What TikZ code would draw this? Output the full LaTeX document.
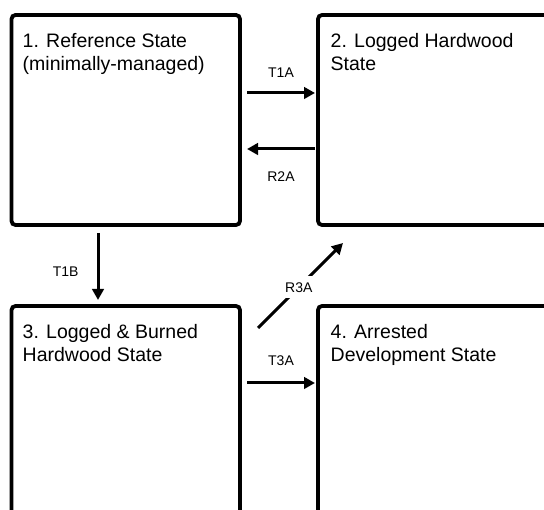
\documentclass[tikz,border=0pt]{standalone}
\usepackage{fontspec}
\setmainfont{Liberation Sans}
\usetikzlibrary{positioning,arrows.meta,calc}

\begin{document}
\begin{tikzpicture}[
    x=1pt, y=1pt,
    state/.style={draw, line width=3.8pt, rounded corners=4pt, outer sep=0pt, inner sep=0pt},
    statetext/.style={anchor=north west, align=left, inner xsep=11pt, inner ysep=18pt, font=\fontsize{19.5}{23.5}\selectfont},
    trans/.style={-{Triangle[length=11pt,width=11.5pt]}, line width=3pt},
    translabel/.style={font=\fontsize{14}{16}\selectfont, inner sep=2pt},
]
\clip (0,0) rectangle (544,-510);
\node [state, anchor=north west, minimum width=228.5pt, minimum height=210pt, label={[statetext]north west:{1. Reference State\\(minimally-managed)}}] (ref) at (11.5,-15) {};
\node [state, minimum width=240pt, minimum height=210pt, right=78pt of ref, label={[statetext, inner xsep=12.5pt]north west:{2. Logged Hardwood\\State}}] (logged) {};
\node [state, minimum width=228.5pt, minimum height=230pt, below=81pt of ref, label={[statetext]north west:{3. Logged \& Burned\\Hardwood State}}] (burned) {};
\node [state, minimum width=240pt, minimum height=230pt, right=78pt of burned, label={[statetext, inner xsep=12.5pt]north west:{4. Arrested\\Development State}}] (arrested) {};
\draw [trans] ($(ref.north east)+(7,-78)$) -- node [translabel, above=11.5pt] {T1A} ($(logged.north west)+(-3,-78)$);
\draw [trans] ($(logged.north west)+(-3,-134)$) -- node [translabel, below=19pt] {R2A} ($(ref.north east)+(7,-134)$);
\draw [trans] ($(ref.south west)+(86.5,-8)$) -- node [translabel, pos=0.58, left=16pt] {T1B} ($(burned.north west)+(86.5,6)$);
\draw [trans] ($(burned.north east)+(7,-77)$) -- node [translabel, above=14pt] {T3A} ($(arrested.north west)+(-3,-77)$);
\draw [trans] ($(burned.north east)+(18,-22)$) -- node [translabel, pos=0.48, fill=white, inner sep=6pt] {R3A} ($(logged.south west)+(25,-18)$);
\end{tikzpicture}
\end{document}
